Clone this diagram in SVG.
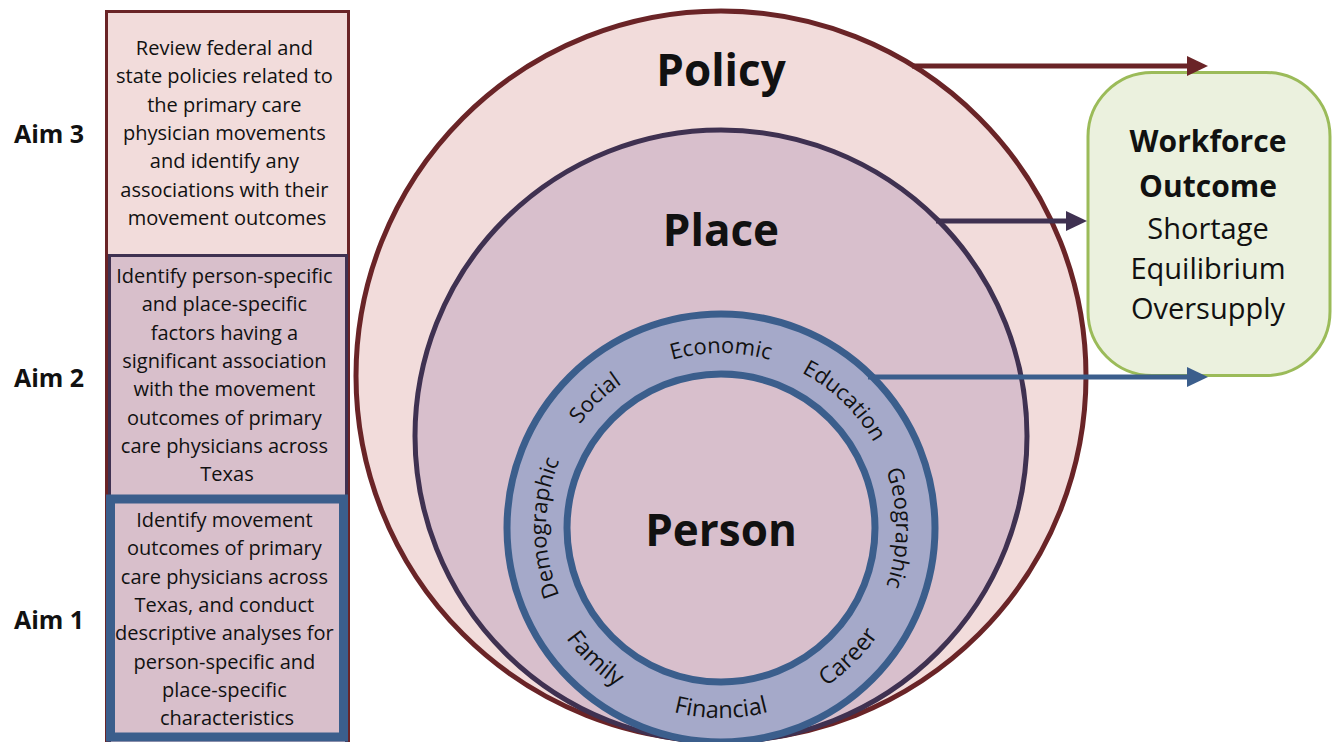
<svg xmlns="http://www.w3.org/2000/svg" width="1334" height="742" viewBox="0 0 1334 742">
  <style>
    .t { font-family: "Open Sans", "Liberation Sans", sans-serif; fill: #111; }
    .box { font-size: 20px; text-anchor: middle; }
    .aim { font-size: 25px; font-weight: bold; text-anchor: middle; }
    .title { font-size: 44px; font-weight: bold; text-anchor: middle; }
    .ring { font-size: 22px; text-anchor: middle; }
    .ring-low { font-size: 23.5px; text-anchor: middle; }
    .wf-b { font-size: 30px; font-weight: bold; text-anchor: middle; }
    .wf { font-size: 29px; text-anchor: middle; }
    .conn { fill: none; stroke-width: 5; }
  </style>
  <defs>
    <marker id="headPolicy" markerUnits="userSpaceOnUse" markerWidth="21" markerHeight="20" refX="9" refY="10" orient="auto">
      <path d="M0,0 L21,10 L0,20 z" fill="#6a2427"/>
    </marker>
    <marker id="headPlace" markerUnits="userSpaceOnUse" markerWidth="21" markerHeight="20" refX="9" refY="10" orient="auto">
      <path d="M0,0 L21,10 L0,20 z" fill="#3f3151"/>
    </marker>
    <marker id="headPerson" markerUnits="userSpaceOnUse" markerWidth="21" markerHeight="20" refX="9" refY="10" orient="auto">
      <path d="M0,0 L21,10 L0,20 z" fill="#3b5e8c"/>
    </marker>
    <!-- clockwise circle (starts at bottom), labels on upper half -->
    <path id="cwRing" d="M721,703 A175,175 0 1 1 721,353 A175,175 0 1 1 721,703"/>
    <!-- counter-clockwise circle (starts at top), labels on lower half -->
    <path id="ccwRing" d="M721,338 A190,190 0 1 0 721,718 A190,190 0 1 0 721,338"/>
  </defs>

  <!-- Aim boxes -->
  <g id="aim3">
    <rect x="106.5" y="11.5" width="242" height="745" fill="#f2dcdb" stroke="#6a2427" stroke-width="3"/>
    <text class="t box">
      <tspan x="227" y="55">Review federal and</tspan>
      <tspan x="227" y="83.3">state policies related to</tspan>
      <tspan x="227" y="111.6">the primary care</tspan>
      <tspan x="227" y="140">physician movements</tspan>
      <tspan x="227" y="168.3">and identify any</tspan>
      <tspan x="227" y="196.6">associations with their</tspan>
      <tspan x="227" y="225">movement outcomes</tspan>
    </text>
    <text class="t aim" x="49" y="143">Aim 3</text>
  </g>
  <g id="aim2">
    <rect x="109.5" y="255.5" width="237" height="500" fill="#d8bfcb" stroke="#3f3151" stroke-width="3"/>
    <text class="t box">
      <tspan x="227" y="283">Identify person-specific</tspan>
      <tspan x="227" y="311.3">and place-specific</tspan>
      <tspan x="227" y="339.6">factors having a</tspan>
      <tspan x="227" y="368">significant association</tspan>
      <tspan x="227" y="396.3">with the movement</tspan>
      <tspan x="227" y="424.6">outcomes of primary</tspan>
      <tspan x="227" y="453">care physicians across</tspan>
      <tspan x="227" y="481.3">Texas</tspan>
    </text>
    <text class="t aim" x="49" y="387">Aim 2</text>
  </g>
  <g id="aim1">
    <rect x="110.5" y="499" width="233" height="238" fill="#d8bfcb" stroke="#3b5e8c" stroke-width="9"/>
    <text class="t box">
      <tspan x="227" y="527">Identify movement</tspan>
      <tspan x="227" y="555.3">outcomes of primary</tspan>
      <tspan x="227" y="583.6">care physicians across</tspan>
      <tspan x="227" y="612">Texas, and conduct</tspan>
      <tspan x="227" y="640.3">descriptive analyses for</tspan>
      <tspan x="227" y="668.6">person-specific and</tspan>
      <tspan x="227" y="697">place-specific</tspan>
      <tspan x="227" y="725.3">characteristics</tspan>
    </text>
    <text class="t aim" x="49" y="629">Aim 1</text>
  </g>

  <!-- Nested circles -->
  <g id="policy">
    <circle cx="721" cy="376" r="365" fill="#f2dcdb" stroke="#6a2427" stroke-width="5"/>
    <text class="t title" x="721" y="86">Policy</text>
  </g>
  <g id="place">
    <circle cx="721" cy="436" r="306" fill="#d8bfcc" stroke="#3f3151" stroke-width="5"/>
    <text class="t title" x="721" y="246">Place</text>
  </g>
  <g id="person">
    <circle cx="721" cy="528" r="214" fill="#a5a9c9" stroke="#3b5e8c" stroke-width="7"/>
    <circle cx="721" cy="528" r="154" fill="#d8bfcc" stroke="#3b5e8c" stroke-width="7"/>
    <text class="t title" x="721" y="546">Person</text>
    <text class="t ring"><textPath href="#cwRing" startOffset="25%">Demographic</textPath></text>
    <text class="t ring"><textPath href="#cwRing" startOffset="37.75%">Social</textPath></text>
    <text class="t ring"><textPath href="#cwRing" startOffset="50%">Economic</textPath></text>
    <text class="t ring"><textPath href="#cwRing" startOffset="62.25%">Education</textPath></text>
    <text class="t ring"><textPath href="#cwRing" startOffset="75%">Geographic</textPath></text>
    <text class="t ring-low"><textPath href="#ccwRing" startOffset="37.8%">Family</textPath></text>
    <text class="t ring-low"><textPath href="#ccwRing" startOffset="50%">Financial</textPath></text>
    <text class="t ring-low"><textPath href="#ccwRing" startOffset="62.4%">Career</textPath></text>
  </g>

  <!-- Outcome box -->
  <g id="workforce">
    <rect x="1088" y="72.5" width="242" height="303" rx="64" ry="64" fill="#ebf1de" stroke="#9bbb59" stroke-width="3"/>
    <text class="t wf-b" x="1208" y="152">Workforce</text>
    <text class="t wf-b" x="1208" y="197">Outcome</text>
    <text class="t wf" x="1208" y="239">Shortage</text>
    <text class="t wf" x="1208" y="279">Equilibrium</text>
    <text class="t wf" x="1208" y="319">Oversupply</text>
  </g>

  <!-- Connectors -->
  <g id="connectors">
    <line class="conn" x1="912" y1="66" x2="1196" y2="66" stroke="#6a2427" marker-end="url(#headPolicy)"/>
    <line class="conn" x1="936" y1="221" x2="1075" y2="221" stroke="#3f3151" marker-end="url(#headPlace)"/>
    <line class="conn" x1="868" y1="377" x2="1196" y2="377" stroke="#3b5e8c" marker-end="url(#headPerson)"/>
  </g>
</svg>
